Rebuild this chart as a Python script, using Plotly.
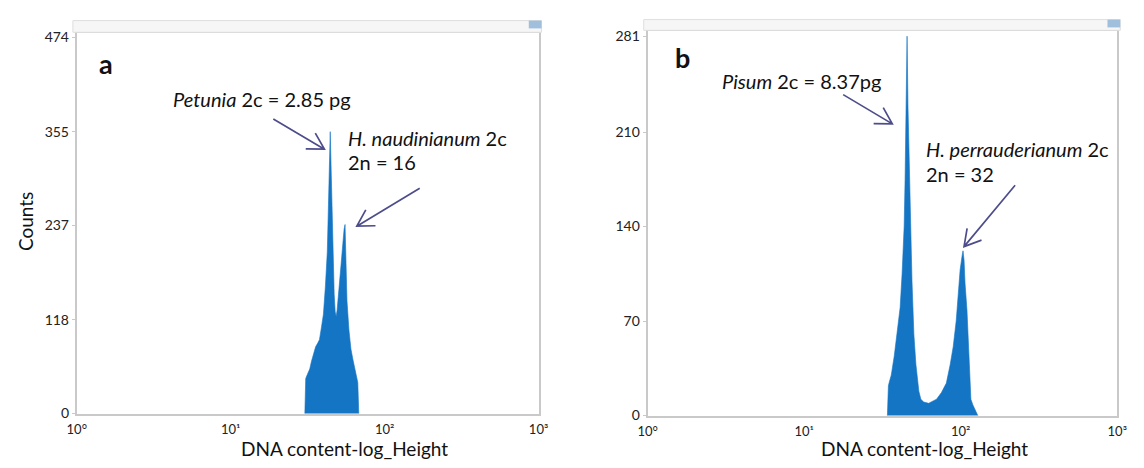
import math
import plotly.graph_objects as go

W, H = 1144, 468

# ---------------- data ----------------
# Panel a: Petunia (standard) + H. naudinianum
a_dna = [30.3, 30.7, 31.6, 32.6, 33.5, 34.5, 35.6, 36.6, 37.7, 38.8, 40.0, 41.2, 42.4,
         43.1, 43.7, 44.3, 45.0, 45.7, 46.3, 47.0, 47.7, 48.4, 49.1, 50.6, 52.1, 53.7,
         54.5, 55.3, 56.1, 56.9, 58.6, 60.4, 62.2, 64.0, 65.9, 66.9, 67.9]
a_counts = [0, 44, 50, 56, 66, 76, 84, 88, 93, 108, 125, 160, 204,
            260, 320, 355, 300, 244, 190, 150, 128, 122, 130, 160, 195, 220,
            232, 238, 200, 142, 105, 81, 68, 57, 48, 39, 0]

# Panel b: Pisum (standard) + H. perrauderianum
b_dna = [34.0, 34.5, 35.0, 36.0, 37.6, 39.3, 41.0, 42.2, 43.5, 44.1, 44.7, 45.4, 46.0,
         46.7, 47.4, 48.1, 48.8, 50.2, 51.7, 54.0, 55.6, 58.0, 62.4, 67.1, 70.0, 75.3,
         80.9, 85.7, 89.5, 93.5, 96.2, 99.1, 101.9, 103.4, 105.0, 106.5, 109.6, 111.2,
         114.5, 116.1, 119.4, 123.0, 126.0, 128.5]
b_counts = [0, 22, 25, 30, 44, 61, 80, 105, 140, 175, 230, 281, 230,
            190, 160, 130, 100, 60, 38, 18, 12, 10, 9, 11, 12, 17,
            24, 38, 51, 70, 87, 108, 118, 122, 115, 98, 78, 61,
            30, 12, 8, 5, 3, 0]

x_tickvals = [1, 10, 100, 1000]
x_ticktext = ["10°", "10¹", "10²", "10³"]
a_yticks = [0, 118, 237, 355, 474]
b_yticks = [0, 70, 140, 210, 281]

BLUE = "#1475c4"
ARROW = "#4d4d8c"
FRAME = "#c9c9c9"
FONT = "Lato"
TXT = "#111111"


def px(x, y):
    return x / W, 1 - y / H


fig = go.Figure()
fig.add_trace(go.Scatter(x=a_dna, y=a_counts, mode="lines", fill="tozeroy",
                         line=dict(color=BLUE, width=0.6), fillcolor=BLUE,
                         xaxis="x", yaxis="y", showlegend=False, hoverinfo="skip"))
fig.add_trace(go.Scatter(x=b_dna, y=b_counts, mode="lines", fill="tozeroy",
                         line=dict(color=BLUE, width=0.6), fillcolor=BLUE,
                         xaxis="x2", yaxis="y2", showlegend=False, hoverinfo="skip"))

ax_common = dict(showline=True, mirror=True, linecolor=FRAME, linewidth=2,
                 showgrid=False, zeroline=False)
xa = dict(ax_common, type="log", range=[0, 3], tickvals=x_tickvals, ticktext=x_ticktext,
          ticks="", tickfont=dict(family=FONT, size=13, color="#222"),
          ticklabelstandoff=2)
ya = dict(ax_common, ticks="outside", ticklen=3, tickcolor=FRAME,
          tickfont=dict(family=FONT, size=14, color="#222"))

fig.update_layout(
    width=W, height=H, margin=dict(l=0, r=0, t=0, b=0),
    paper_bgcolor="white", plot_bgcolor="white",
    xaxis=dict(xa, domain=[68 / W, 538 / W], anchor="y"),
    yaxis=dict(ya, domain=[1 - 420 / H, 1 - 29 / H], range=[-1, 479], anchor="x",
               tickvals=a_yticks, ticktext=[str(v) for v in a_yticks]),
    xaxis2=dict(xa, domain=[649 / W, 1127 / W], anchor="y2"),
    yaxis2=dict(ya, domain=[1 - 422 / H, 1 - 27 / H], range=[-0.5, 284.6], anchor="x2",
                tickvals=b_yticks, ticktext=[str(v) for v in b_yticks]),
)

# ---------------- annotations ----------------
def text(x, y, s, size=20, bold=False, xanchor="left", angle=0):
    X, Y = px(x, y)
    fig.add_annotation(x=X, y=Y, xref="paper", yref="paper", text=("<b>%s</b>" % s) if bold else s,
                       showarrow=False, xanchor=xanchor, yanchor="middle", textangle=angle,
                       font=dict(family=FONT, size=size, color=TXT))

text(98, 60, "a", size=27, bold=True, xanchor="center")
text(164, 96, "<i>Petunia</i> 2c = 2.85 pg")
text(342, 136, "<i>H. naudinianum</i> 2c")
text(342, 161, "2n = 16")
text(684, 54, "b", size=27, bold=True, xanchor="center")
text(723, 78, "<i>Pisum</i> 2c = 8.37pg")
text(930, 148, "<i>H. perrauderianum</i> 2c")
text(930, 173, "2n = 32")
# axis titles
text(16, 222, "Counts", size=19, xanchor="center", angle=-90)
text(340, 455, "DNA content-log_Height", size=19, xanchor="center")
text(931, 455, "DNA content-log_Height", size=19, xanchor="center")

# ---------------- arrows (open V heads) ----------------
shapes = []


def arrow(tail, tip, head=19, ang=30):
    dx, dy = tail[0] - tip[0], tail[1] - tip[1]
    L = math.hypot(dx, dy)
    ux, uy = dx / L, dy / L
    pts = []
    for s in (1, -1):
        a = math.radians(s * ang)
        rx = ux * math.cos(a) - uy * math.sin(a)
        ry = ux * math.sin(a) + uy * math.cos(a)
        pts.append((tip[0] + head * rx, tip[1] + head * ry))

    def p(q):
        X, Y = px(*q)
        return "%.5f %.5f" % (X, Y)
    path = "M %s L %s M %s L %s L %s" % (p(tail), p(tip), p(pts[0]), p(tip), p(pts[1]))
    shapes.append(dict(type="path", xref="paper", yref="paper", path=path,
                       line=dict(color=ARROW, width=1.7)))

arrow((268, 117), (320, 148))
arrow((417, 188), (353, 227))
arrow((848, 92), (898, 122))
arrow((1023, 185), (971, 248))

# ---------------- window header bars ----------------
def header(x0, x1, y0, y1):
    X0, Y0 = px(x0, y0)
    X1, Y1 = px(x1, y1)
    shapes.append(dict(type="rect", xref="paper", yref="paper", x0=X0, x1=X1, y0=Y1, y1=Y0,
                       fillcolor="#f6f6f6", line=dict(color="#dedede", width=1)))
    B0, BY0 = px(x1 - 13, y0)
    B1, BY1 = px(x1, y0 + 8)
    shapes.append(dict(type="rect", xref="paper", yref="paper", x0=B0, x1=B1, y0=BY1, y1=BY0,
                       fillcolor="#9fbfdc", line=dict(width=0)))

header(64, 541, 16, 28)
header(645, 1130, 15, 26)

fig.update_layout(shapes=shapes)
fig.write_html("out.html", config={"displayModeBar": False},
               post_script="document.body.style.margin='0px';document.body.style.overflow='hidden';")
